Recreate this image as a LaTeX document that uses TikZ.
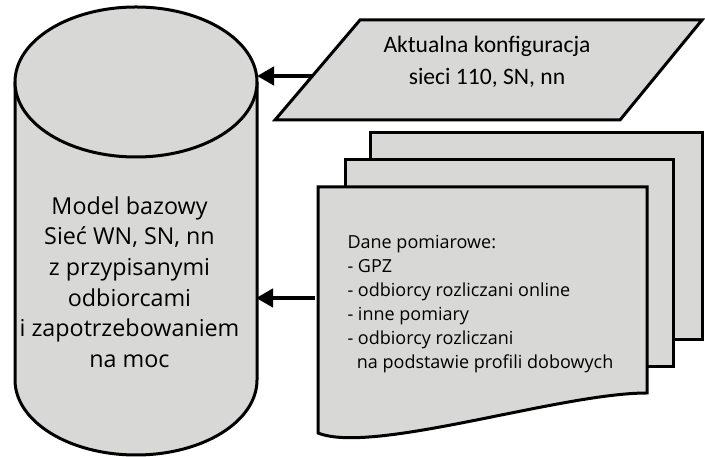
\documentclass[tikz,border=0pt]{standalone}
\usepackage{fontspec}
\setmainfont{Open Sans}
\newfontfamily\calibri{Carlito}
\usetikzlibrary{arrows.meta}
\definecolor{shapegray}{RGB}{216,217,214}
\tikzset{
  outline/.style={draw=black,line width=3pt,fill=shapegray,line join=miter},
  arr/.style={line width=4.5pt,-{Triangle[length=17pt,width=18pt]}},
}
\begin{document}
\begin{tikzpicture}[x=1pt,y=1pt]
\useasboundingbox (0,0) rectangle (705,457);
% cylinder
\fill[shapegray] (15,375) -- (15,77) arc[start angle=180,end angle=360,x radius=121,y radius=75] -- (257,375) -- cycle;
\draw[line width=3pt] (15,375) -- (15,77) arc[start angle=180,end angle=360,x radius=121,y radius=75] -- (257,375);
\filldraw[outline] (136,375) ellipse[x radius=121,y radius=75];
\node[align=center,font=\fontsize{23.3}{30.6}\selectfont] (cyltext) at (129.5,175)
 {Model bazowy\\Sieć WN, SN, nn\\z przypisanymi\\odbiorcami\\i zapotrzebowaniem\\na moc};
\coordinate (cylA) at (257,381);
\coordinate (cylB) at (256,159);
% parallelogram
\filldraw[outline] (360,437) -- (702,437) -- (620,337) -- (275,337) -- cycle;
\node[align=center,font=\calibri\fontsize{23.6}{32}\selectfont] (conf) at (487,395)
 {Aktualna konfiguracja\\sieci 110, SN, nn};
\coordinate (parIn) at (313,381);
% documents
\filldraw[outline] (370,117) rectangle (702,324);
\filldraw[outline] (345,90) rectangle (673,297);
\filldraw[outline] (318,270) -- (647,270) -- (647,64) .. controls (560,64) and (372,2) .. (318,24) -- cycle;
\node[align=left,anchor=west,font=\fontsize{18}{24}\selectfont] (meas) at (344,153)
 {Dane pomiarowe:\\- GPZ\\- odbiorcy rozliczani online\\- inne pomiary\\- odbiorcy rozliczani\\\ \ na podstawie profili dobowych};
\coordinate (docIn) at (315,159);
% connectors
\draw[arr] (parIn) -- (cylA);
\draw[arr] (docIn) -- (cylB);
\end{tikzpicture}
\end{document}
